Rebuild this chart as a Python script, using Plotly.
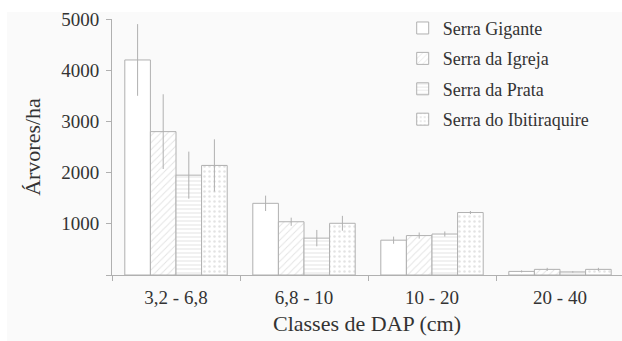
import plotly.graph_objects as go

categories = ["3,2 - 6,8", "6,8 - 10", "10 - 20", "20 - 40"]
series_names = ["Serra Gigante", "Serra da Igreja", "Serra da Prata", "Serra do Ibitiraquire"]
gigante = [4200, 1400, 680, 70]
igreja = [2800, 1040, 770, 110]
prata = [1950, 720, 800, 60]
ibitiraquire = [2140, 1010, 1220, 110]
err_gigante = [700, 150, 70, 20]
err_igreja = [730, 80, 60, 30]
err_prata = [460, 160, 50, 15]
err_ibitiraquire = [510, 145, 30, 30]
y_tickvals = [0, 1000, 2000, 3000, 4000, 5000]
y_ticktext = ["", "1000", "2000", "3000", "4000", "5000"]

values = [gigante, igreja, prata, ibitiraquire]
errors = [err_gigante, err_igreja, err_prata, err_ibitiraquire]
patterns = ["", "/", "-", "."]
pattern_sizes = [6, 5, 4, 5]
pattern_solidity = [0.2, 0.2, 0.25, 0.2]

LINE = "#b0b0b0"
TEXT = "#333333"
FONT = "Times New Roman, Liberation Serif, serif"

fig = go.Figure()
for i, name in enumerate(series_names):
    fig.add_trace(go.Bar(
        x=categories, y=values[i], name=name, legendgroup=name,
        marker=dict(color="white", line=dict(color=LINE, width=1),
                    pattern=dict(shape=patterns[i], fgcolor="#c8c8c8", bgcolor="white",
                                 size=pattern_sizes[i], solidity=pattern_solidity[i])),
        error_y=dict(type="data", array=errors[i], color="#b0b0b0", thickness=1, width=0),
    ))

fig.add_shape(type="rect", xref="paper", yref="paper", x0=-0.2059, x1=1.01, y0=-0.26, y1=1.0273,
              fillcolor="#fafafa", line=dict(width=0), layer="below")

fig.update_layout(
    width=622, height=341,
    margin=dict(l=112, r=0, t=19, b=66),
    paper_bgcolor="white", plot_bgcolor="rgba(0,0,0,0)",
    barmode="group", bargap=0.2, bargroupgap=0,
    font=dict(family=FONT, color=TEXT, size=19),
    showlegend=True,
    legend=dict(x=0.57, y=1.036, xanchor="left", yanchor="top", bgcolor="rgba(0,0,0,0)",
                font=dict(size=18, family=FONT, color=TEXT), traceorder="grouped",
                tracegroupgap=4),
    xaxis=dict(range=[-0.5, -0.5 + 510 / 128], showline=True, linecolor=LINE, linewidth=1,
               ticks="outside", tickson="boundaries", ticklen=5, tickcolor=LINE,
               showgrid=False, zeroline=False, ticklabelstandoff=5,
               tickfont=dict(size=19, family=FONT),
               title=dict(text="Classes de DAP (cm)", font=dict(size=22, family=FONT), standoff=8)),
    yaxis=dict(range=[0, 5000], tickvals=y_tickvals, ticktext=y_ticktext, showline=True,
               linecolor=LINE, linewidth=1, ticks="outside", ticklen=5, tickcolor=LINE,
               showgrid=False, zeroline=False, tickfont=dict(size=19, family=FONT),
               ticklabelstandoff=3,
               title=dict(text="Árvores/ha", font=dict(size=22, family=FONT), standoff=14)),
)

fig.write_html("out.html")
